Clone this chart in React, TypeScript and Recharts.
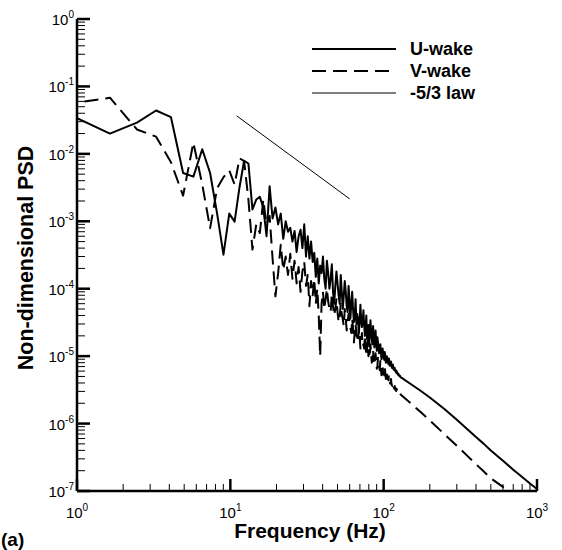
import React from 'react';
import { LineChart, Line, XAxis, YAxis } from 'recharts';

// frequency bins (Hz)
const freqLow = [0.82, 1.64, 2.46, 3.28, 4.10, 4.92, 5.74, 6.56, 7.38, 8.20, 9.02, 9.84, 10.66, 11.48, 12.30, 13.12, 13.94, 14.76, 15.58, 16.40, 17.22, 18.04, 18.86, 19.68, 20.50, 21.32, 22.14, 22.96, 23.78, 24.60, 25.42, 26.24, 27.06, 27.88, 28.70, 29.52, 30.34, 31.16, 31.98, 32.80, 33.62, 34.44, 35.26, 36.08, 36.90, 37.72, 38.54, 39.36, 40.18, 41.00];
const freqMid = [42.64, 44.28, 45.92, 47.56, 49.20, 50.84, 52.48, 54.12, 55.76, 57.40, 59.04, 60.68, 62.32, 63.96, 65.60, 67.24, 68.88, 70.52, 72.16, 73.80, 75.44, 77.08, 78.72, 80.36, 82.00, 83.64, 85.28, 86.92, 88.56, 90.20, 91.84, 93.48, 95.12, 96.76, 98.40, 100.04, 101.68, 103.32, 104.96, 106.60, 108.24, 109.88, 111.52, 113.16, 114.80, 116.44, 118.08, 119.72, 121.36, 123.00, 124.64, 126.28, 127.92, 129.56, 131.20];
const freqOdd = [41.82, 43.46, 45.10, 46.74, 48.38, 50.02, 51.66, 53.30, 54.94, 56.58, 58.22, 59.86, 61.50, 63.14, 64.78, 66.42, 68.06, 69.70, 71.34, 72.98, 74.62, 76.26, 77.90, 79.54, 81.18, 82.82, 84.46, 86.10, 87.74, 89.38, 91.02, 92.66, 94.30, 95.94, 97.58, 99.22, 100.86, 102.50, 104.14, 105.78, 107.42, 109.06, 110.70, 112.34, 113.98, 115.62, 117.26, 118.90, 120.54, 122.18, 123.82, 125.46, 127.10, 128.74, 130.38];
const freqHigh = [150, 175, 200, 250, 300, 350, 400, 450, 500, 600, 700, 800, 900, 1000];

// U-wake PSD
const uLow = [0.042, 0.020, 0.029, 0.044, 0.035, 0.0052, 0.0046, 0.0117, 0.0052, 0.0013, 0.00032, 0.0013, 0.00099, 0.0032, 0.0079, 0.0072, 0.0015, 0.0021, 0.0023, 0.0016, 0.0006, 0.0033, 0.0011, 0.0016, 0.0009, 0.0013, 0.00055, 0.0010, 0.0007, 0.0008, 0.0005, 0.00072, 0.00035, 0.0006, 0.00075, 0.0004, 0.0009, 0.0003, 0.0006, 0.00028, 0.0005, 0.00025, 0.00034, 0.00015, 0.00028, 0.00012, 0.00022, 0.00017, 0.0003, 0.00014];
const uMid = [2.6e-4, 1.0e-4, 2.3e-4, 6e-5, 1.8e-4, 8e-5, 1.6e-4, 5e-5, 1.3e-4, 5.5e-5, 1.1e-4, 3.6e-5, 9e-5, 3.2e-5, 7e-5, 4.2e-5, 2.2e-5, 5.8e-5, 2.7e-5, 4.8e-5, 2.0e-5, 4.0e-5, 2.4e-5, 1.4e-5, 3.4e-5, 1.8e-5, 2.8e-5, 1.35e-5, 2.4e-5, 1.2e-5, 1.6e-5, 1.1e-5, 1.5e-5, 9e-6, 1.3e-5, 9.5e-6, 1.15e-5, 8e-6, 1.0e-5, 8.2e-6, 9.2e-6, 7.2e-6, 8.3e-6, 6.8e-6, 7.5e-6, 6.3e-6, 6.7e-6, 5.9e-6, 6.1e-6, 5.5e-6, 5.5e-6, 5.1e-6, 5.1e-6, 4.85e-6, 4.75e-6];
const uOdd = [1.0e-4, 1.7e-4, 1.4e-4, 9e-5, 1.1e-4, 1.2e-4, 6e-5, 9e-5, 8e-5, 9e-5, 4.5e-5, 6.5e-5, 6e-5, 5e-5, 3.8e-5, 3.0e-5, 3.6e-5, 3.2e-5, 3.5e-5, 3.3e-5, 2.9e-5, 2.6e-5, 1.8e-5, 2.9e-5, 2.1e-5, 2.3e-5, 1.5e-5, 2.0e-5, 1.7e-5, 1.6e-5, 1.9e-5, 1.3e-5, 1.25e-5, 1.15e-5, 1.05e-5, 1.1e-5, 8.8e-6, 9.8e-6, 8.6e-6, 8.8e-6, 7.6e-6, 8.1e-6, 7.4e-6, 7.3e-6, 6.6e-6, 6.7e-6, 6.2e-6, 6.1e-6, 5.7e-6, 5.7e-6, 5.3e-6, 5.25e-6, 5.0e-6, 4.95e-6, 4.8e-6];
const uHigh = [3.86e-6, 3.04e-6, 2.44e-6, 1.63e-6, 1.14e-6, 8.3e-7, 6.3e-7, 5.0e-7, 4.0e-7, 2.8e-7, 2.07e-7, 1.61e-7, 1.29e-7, 1.07e-7];

// V-wake PSD
const vLow = [0.054, 0.068, 0.023, 0.018, 0.0075, 0.0024, 0.0147, 0.0035, 0.00079, 0.0031, 0.0045, 0.0057, 0.0035, 0.0086, 0.0078, 0.0021, 0.00038, 0.0009, 0.00067, 0.0021, 0.0009, 0.0012, 0.00028, 0.000077, 0.00017, 0.00045, 0.00019, 0.0003, 0.00016, 0.00033, 0.00014, 0.00026, 0.00012, 0.00021, 0.00009, 0.00018, 0.00025, 0.00011, 0.00016, 0.000055, 0.00013, 0.00008, 0.00014, 0.00006, 0.0001, 0.00004, 0.00001, 0.00006, 0.00009, 0.00005];
const vMid = [1.0e-4, 5e-5, 8.5e-5, 4e-5, 7e-5, 3.2e-5, 6e-5, 3.5e-5, 5e-5, 2.4e-5, 4.2e-5, 2.6e-5, 3.6e-5, 1.6e-5, 3.0e-5, 1.9e-5, 2.7e-5, 1.3e-5, 2.2e-5, 1.5e-5, 2.0e-5, 1.0e-5, 1.7e-5, 1.15e-5, 1.5e-5, 8.0e-6, 1.25e-5, 9.0e-6, 1.1e-5, 6.5e-6, 9.5e-6, 7.0e-6, 8.5e-6, 5.2e-6, 7.5e-6, 5.8e-6, 6.8e-6, 4.6e-6, 6.0e-6, 4.8e-6, 5.2e-6, 4.0e-6, 4.6e-6, 3.7e-6, 4.0e-6, 3.4e-6, 3.6e-6, 3.1e-6, 3.3e-6, 3.0e-6, 3.0e-6, 2.85e-6, 2.8e-6, 2.7e-6, 2.6e-6];
const vOdd = [7e-5, 6.5e-5, 4.5e-5, 5.5e-5, 5e-5, 4.5e-5, 3.8e-5, 4.2e-5, 2.8e-5, 3.6e-5, 3.2e-5, 2.9e-5, 2.2e-5, 2.6e-5, 2.3e-5, 2.0e-5, 1.6e-5, 2.0e-5, 1.7e-5, 1.4e-5, 1.3e-5, 1.45e-5, 1.3e-5, 1.0e-5, 9.5e-6, 1.1e-5, 9.0e-6, 8.5e-6, 7.5e-6, 8.2e-6, 7.0e-6, 7.8e-6, 6.2e-6, 6.6e-6, 6.0e-6, 5.4e-6, 5.2e-6, 5.6e-6, 5.0e-6, 4.6e-6, 4.4e-6, 4.5e-6, 3.9e-6, 4.0e-6, 3.6e-6, 3.55e-6, 3.3e-6, 3.25e-6, 3.05e-6, 3.1e-6, 2.9e-6, 2.9e-6, 2.75e-6, 2.72e-6, 2.62e-6];
const vHigh = [2.0e-6, 1.47e-6, 1.11e-6, 6.9e-7, 4.7e-7, 3.35e-7, 2.5e-7, 1.94e-7, 1.54e-7, 1.15e-7, 9.0e-8, 7.6e-8, 6.3e-8, 5.4e-8];

// -5/3 reference line
const lawFreq = [11, 60];
const lawPsd = [0.0366, 0.00215];

const xDecades = [1, 10, 100, 1000];
const yDecades = [1e-7, 1e-6, 1e-5, 1e-4, 1e-3, 1e-2, 1e-1, 1];

const toSeries = (fs: number[][], vs: number[][]) => {
  const rows: { f: number; psd: number }[] = [];
  fs.forEach((list, j) => list.forEach((f, i) => rows.push({ f, psd: vs[j][i] })));
  return rows.sort((a, b) => a.f - b.f);
};
const uData = toSeries([freqLow, freqMid, freqOdd, freqHigh], [uLow, uMid, uOdd, uHigh]);
const vData = toSeries([freqLow, freqMid, freqOdd, freqHigh], [vLow, vMid, vOdd, vHigh]);
const lawData = lawFreq.map((f, i) => ({ f, psd: lawPsd[i] }));

const withMinors = (decades: number[]) => {
  const out: number[] = [];
  decades.forEach((d, i) => {
    if (i === decades.length - 1) { out.push(d); return; }
    for (let m = 1; m <= 9; m++) out.push(m * d);
  });
  return out;
};
const xTicks = withMinors(xDecades);
const yTicks = withMinors(yDecades);

const FONT = '"Liberation Sans", Arial, Helvetica, sans-serif';

const isMajor = (v: number) => {
  const l = Math.log10(v);
  return Math.abs(l - Math.round(l)) < 1e-6;
};

const XTick = (props: any) => {
  const { x, y, payload } = props;
  const major = isMajor(payload.value);
  const e = Math.round(Math.log10(payload.value));
  return (
    <g>
      <line x1={x} x2={x} y1={y} y2={y - (major ? 12 : 7)} stroke="#000" strokeWidth={major ? 2.5 : 1} />
      {major && (
        <text x={x} y={y + 27} textAnchor="middle" fontFamily={FONT} fontSize={15} fill="#000">
          10<tspan dy={-7} fontSize={10}>{e}</tspan>
        </text>
      )}
    </g>
  );
};

const YTick = (props: any) => {
  const { x, y, payload } = props;
  const major = isMajor(payload.value);
  const e = Math.round(Math.log10(payload.value));
  return (
    <g>
      <line x1={x} x2={x + (major ? 13 : 8)} y1={y} y2={y} stroke="#000" strokeWidth={major ? 2.5 : 1} />
      {major && (
        <text x={x - 3} y={y + 6} textAnchor="end" fontFamily={FONT} fontSize={15} fill="#000">
          10<tspan dy={-7} fontSize={10}>{e}</tspan>
        </text>
      )}
    </g>
  );
};

export default function App() {
  return (
    <div style={{ position: 'absolute', left: 0, top: 0, width: 562, height: 550, background: '#fff' }}>
      <LineChart width={562} height={550} margin={{ top: 19, right: 25, left: 17, bottom: 29 }}>
        <XAxis
          dataKey="f"
          type="number"
          scale="log"
          domain={[1, 1000]}
          allowDataOverflow
          ticks={xTicks}
          interval={0}
          tick={<XTick />}
          tickLine={false}
          tickSize={0}
          tickMargin={0}
          height={30}
          axisLine={{ stroke: '#000', strokeWidth: 2.5 }}
        />
        <YAxis
          type="number"
          scale="log"
          domain={[1e-7, 1]}
          allowDataOverflow
          ticks={yTicks}
          interval={0}
          tick={<YTick />}
          tickLine={false}
          tickSize={0}
          tickMargin={0}
          width={60}
          axisLine={{ stroke: '#000', strokeWidth: 2.5 }}
        />
        <Line data={uData} dataKey="psd" type="linear" stroke="#000" strokeWidth={2} strokeLinejoin="round" dot={false} isAnimationActive={false} />
        <Line data={vData} dataKey="psd" type="linear" stroke="#000" strokeWidth={2} strokeDasharray="14 7" strokeLinejoin="round" dot={false} isAnimationActive={false} />
        <Line data={lawData} dataKey="psd" type="linear" stroke="#000" strokeWidth={1} dot={false} isAnimationActive={false} />
      </LineChart>
      <svg width={562} height={550} style={{ position: 'absolute', left: 0, top: 0, pointerEvents: 'none' }}>
        <g fontFamily={FONT} fontWeight="bold" fontSize={18} fill="#000">
          <line x1={312} x2={396} y1={49} y2={49} stroke="#000" strokeWidth={2} />
          <text x={410} y={55}>U-wake</text>
          <line x1={312} x2={396} y1={71} y2={71} stroke="#000" strokeWidth={2} strokeDasharray="14 7" />
          <text x={410} y={77}>V-wake</text>
          <line x1={312} x2={396} y1={93} y2={93} stroke="#000" strokeWidth={1} />
          <text x={410} y={99}>-5/3 law</text>
        </g>
        <text x={310} y={538} textAnchor="middle" fontFamily={FONT} fontWeight="bold" fontSize={21}>Frequency (Hz)</text>
        <text transform="translate(33,258) rotate(-90)" textAnchor="middle" fontFamily={FONT} fontWeight="bold" fontSize={21.5}>Non-dimensional PSD</text>
        <text x={1} y={546} fontFamily={FONT} fontWeight="bold" fontSize={19}>(a)</text>
      </svg>
    </div>
  );
}
